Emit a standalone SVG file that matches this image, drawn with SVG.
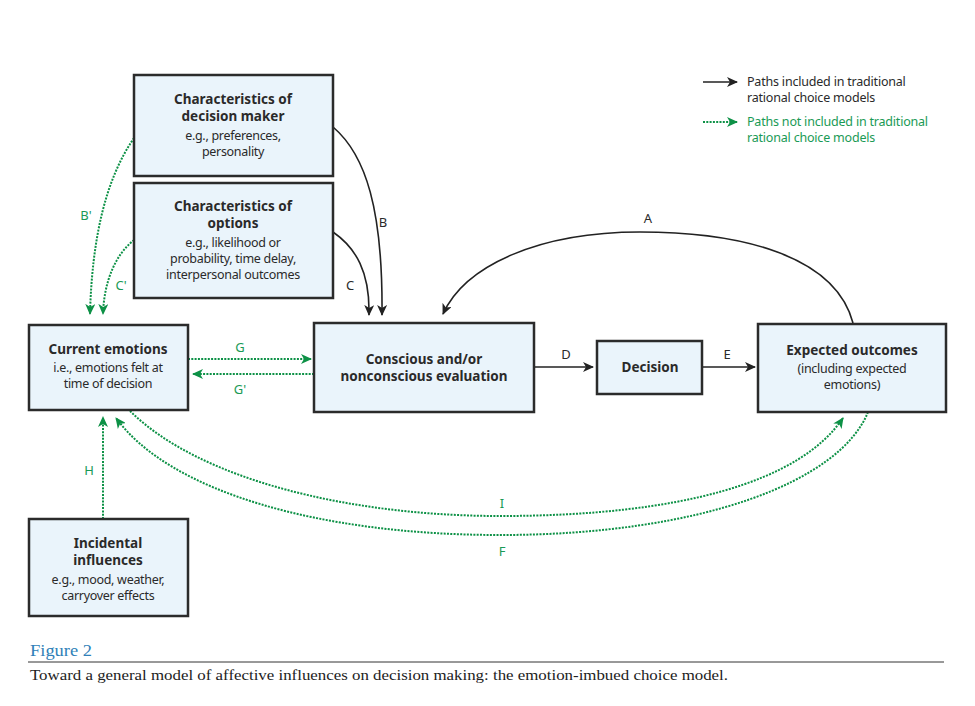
<svg xmlns="http://www.w3.org/2000/svg" width="975" height="706" viewBox="0 0 975 706">
<defs>
<style>
.box{fill:#eaf4fb;stroke:#2b2b2b;stroke-width:2.5}
.t{font-family:"Noto Sans","Liberation Sans",sans-serif;font-size:13.5px;font-weight:bold;fill:#2a2a2a;text-anchor:middle}
.s{font-family:"Noto Sans","Liberation Sans",sans-serif;font-size:12.5px;fill:#2a2a2a;text-anchor:middle;letter-spacing:-0.3px}
.lb{font-family:"Noto Sans","Liberation Sans",sans-serif;font-size:13px;fill:#2a2a2a;text-anchor:middle}
.lg{font-family:"Noto Sans","Liberation Sans",sans-serif;font-size:13px;fill:#1a9a55;text-anchor:middle}
.leg{font-family:"Noto Sans","Liberation Sans",sans-serif;font-size:12.5px;letter-spacing:-0.2px}
.k{fill:none;stroke:#222;stroke-width:1.6}
.g{fill:none;stroke:#0d9146;stroke-width:2;stroke-dasharray:2 1.3}
</style>
<marker id="ak" markerUnits="userSpaceOnUse" markerWidth="12" markerHeight="10" refX="10" refY="5" orient="auto">
<path d="M0,0 L11,5 L0,10 L3,5 Z" fill="#222"/>
</marker>
<marker id="ag" markerUnits="userSpaceOnUse" markerWidth="12" markerHeight="10" refX="10" refY="5" orient="auto">
<path d="M0,0 L11,5 L0,10 L3,5 Z" fill="#0d9146"/>
</marker>
</defs>
<rect width="975" height="706" fill="#fff"/>

<g id="connectors">
<path class="k" d="M333,127 C366,155 383,210 382,315" marker-end="url(#ak)"/>
<path class="k" d="M333,232 C356,248 370,272 369,315" marker-end="url(#ak)"/>
<path class="k" d="M853,323 C835,255 740,232 640,232 C540,232 465,265 443,314" marker-end="url(#ak)"/>
<path class="k" d="M534,367 L593,367" marker-end="url(#ak)"/>
<path class="k" d="M702,367 L755,367" marker-end="url(#ak)"/>
<path class="g" d="M134,138 C105,180 92,240 90,314" marker-end="url(#ag)"/>
<path class="g" d="M134,240 C115,255 104,282 103,314" marker-end="url(#ag)"/>
<path class="g" d="M188,359 L311,359" marker-end="url(#ag)"/>
<path class="g" d="M314,374 L193,374" marker-end="url(#ag)"/>
<path class="g" d="M103,519 L103,417" marker-end="url(#ag)"/>
<path class="g" d="M130,411 C200,480 350,516 500,516 C680,516 800,482 843,418" marker-end="url(#ag)"/>
<path class="g" d="M868,412 C840,482 700,535 500,535 C320,535 170,492 116,418" marker-end="url(#ag)"/>
<text class="lb" x="383" y="227">B</text>
<text class="lb" x="350" y="290">C</text>
<text class="lb" x="648" y="223">A</text>
<text class="lb" x="566" y="359">D</text>
<text class="lb" x="727" y="359">E</text>
<text class="lg" x="86" y="220">B'</text>
<text class="lg" x="121" y="290">C'</text>
<text class="lg" x="240" y="352">G</text>
<text class="lg" x="240" y="394">G'</text>
<text class="lg" x="89" y="475">H</text>
<text class="lg" x="502" y="508">I</text>
<text class="lg" x="502" y="556">F</text>
</g>

<g id="dm">
<rect class="box" x="134" y="75" width="199" height="101"/>
<text class="t" x="233" y="104">Characteristics of</text>
<text class="t" x="233" y="121">decision maker</text>
<text class="s" x="233" y="140">e.g., preferences,</text>
<text class="s" x="233" y="156">personality</text>
</g>

<g id="opt">
<rect class="box" x="134" y="183" width="199" height="115"/>
<text class="t" x="233" y="211">Characteristics of</text>
<text class="t" x="233" y="228">options</text>
<text class="s" x="233" y="247">e.g., likelihood or</text>
<text class="s" x="233" y="263">probability, time delay,</text>
<text class="s" x="233" y="279">interpersonal outcomes</text>
</g>

<g id="cur">
<rect class="box" x="29" y="325" width="159" height="85"/>
<text class="t" x="108" y="354">Current emotions</text>
<text class="s" x="108" y="372">i.e., emotions felt at</text>
<text class="s" x="108" y="388">time of decision</text>
</g>

<g id="inc">
<rect class="box" x="29" y="519" width="159" height="97"/>
<text class="t" x="108" y="548">Incidental</text>
<text class="t" x="108" y="565">influences</text>
<text class="s" x="108" y="584">e.g., mood, weather,</text>
<text class="s" x="108" y="600">carryover effects</text>
</g>

<g id="eval">
<rect class="box" x="314" y="323" width="220" height="89"/>
<text class="t" x="424" y="364">Conscious and/or</text>
<text class="t" x="424" y="381">nonconscious evaluation</text>
</g>

<g id="dec">
<rect class="box" x="597" y="341" width="105" height="53"/>
<text class="t" x="650" y="372">Decision</text>
</g>

<g id="exp">
<rect class="box" x="758" y="324" width="188" height="88"/>
<text class="t" x="852" y="355">Expected outcomes</text>
<text class="s" x="852" y="373">(including expected</text>
<text class="s" x="852" y="389">emotions)</text>
</g>

<g id="legend">
<path class="k" d="M703,82 L737,82" marker-end="url(#ak)"/>
<text class="leg" x="747" y="86" fill="#2a2a2a">Paths included in traditional</text>
<text class="leg" x="747" y="102" fill="#2a2a2a">rational choice models</text>
<path class="g" d="M703,122 L737,122" marker-end="url(#ag)"/>
<text class="leg" x="747" y="126" fill="#1a9a55">Paths not included in traditional</text>
<text class="leg" x="747" y="142" fill="#1a9a55">rational choice models</text>
</g>

<g id="caption">
<text x="30" y="656" font-family="Liberation Serif,serif" font-size="16.5" fill="#2f7fb8" textLength="62" lengthAdjust="spacingAndGlyphs">Figure 2</text>
<line x1="28" y1="662" x2="944" y2="662" stroke="#333" stroke-width="1"/>
<text x="30" y="680" font-family="Liberation Serif,serif" font-size="15.5" fill="#222" textLength="698" lengthAdjust="spacingAndGlyphs">Toward a general model of affective influences on decision making: the emotion-imbued choice model.</text>
</g>
</svg>
